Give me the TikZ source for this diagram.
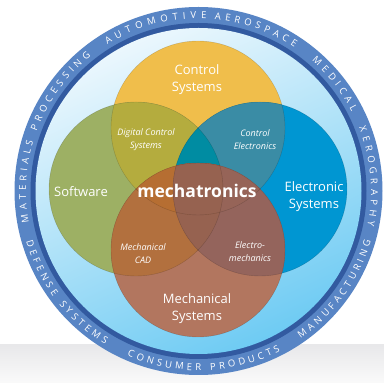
\documentclass[tikz,border=0pt]{standalone}
\usepackage{fontspec}
\setmainfont{Open Sans}
\usetikzlibrary{decorations.text}

\definecolor{bgblue}{RGB}{100,150,210}
\definecolor{glowlt}{RGB}{215,228,245}
\definecolor{floortop}{RGB}{232,232,234}
\definecolor{ringblue}{RGB}{88,133,197}
\definecolor{ringdark}{RGB}{50,90,160}
\definecolor{diskhi}{RGB}{235,247,253}
\definecolor{diskmid}{RGB}{170,224,249}
\definecolor{disklo}{RGB}{110,203,243}
\definecolor{cso}{RGB}{240,190,75}
\definecolor{csg}{RGB}{157,176,100}
\definecolor{csb}{RGB}{0,150,210}
\definecolor{csm}{RGB}{178,118,95}
\definecolor{csog}{RGB}{180,172,62}
\definecolor{csob}{RGB}{58,140,165}
\definecolor{csogb}{RGB}{0,140,162}
\definecolor{csgm}{RGB}{178,112,62}
\definecolor{csbm}{RGB}{148,100,92}
\definecolor{csgbm}{RGB}{150,98,80}
\definecolor{csogm}{RGB}{182,110,50}
\definecolor{csobm}{RGB}{150,100,88}
\definecolor{csall}{RGB}{150,98,80}

\pgfdeclareradialshading{glow}{\pgfpoint{0bp}{0bp}}{color(0bp)=(white); color(31bp)=(white); color(32bp)=(glowlt); color(36bp)=(glowlt!70!bgblue); color(48bp)=(bgblue); color(50bp)=(bgblue)}

\begin{document}
\begin{tikzpicture}[x=1pt,y=1pt]

\tikzset{venn/.style = {draw=black, draw opacity=0.18, line width=0.4pt}}
\tikzset{big/.style = {text=white, align=center, font=\fontsize{13}{17}\selectfont}}
\tikzset{small/.style = {text=white, align=center, font=\fontsize{9}{13}\selectfont\itshape}}
\tikzset{ringtext/.style = {decorate, decoration={text along path, text align={fit to path}, text color=white, text={|\fontsize{9.5}{10}\selectfont|#1}}}}

\useasboundingbox (0,0) rectangle (384,383);
\clip (0,0) rectangle (384,383);
%background
\fill[bgblue] (0,0) rectangle (384,383);
\shade[shading=glow] (198.5,192) circle (290);
\shade[top color=floortop, bottom color=white!98!black] (0,0) rectangle (384,38);
%ring
\coordinate (c) at (198.5,192);
\fill[ringblue] (c) circle (184);
\fill[ringdark] (c) circle (168);
\shade[top color=diskhi, middle color=diskmid, bottom color=disklo, shading angle=25] (c) circle (163);
%ring labels
\path[shift={(c)}, ringtext={MATERIALS PROCESSING}] (190.4:172.5) arc[start angle=190.4, end angle=128.6, radius=172.5];
\path[shift={(c)}, ringtext={AUTOMOTIVE}] (121.9:172.5) arc[start angle=121.9, end angle=87.4, radius=172.5];
\path[shift={(c)}, ringtext={AEROSPACE}] (84.6:172.5) arc[start angle=84.6, end angle=56.2, radius=172.5];
\path[shift={(c)}, ringtext={MEDICAL}] (48.9:172.5) arc[start angle=48.9, end angle=27.4, radius=172.5];
\path[shift={(c)}, ringtext={XEROGRAPHY}] (21.5:172.5) arc[start angle=21.5, end angle=-11.7, radius=172.5];
\path[shift={(c)}, ringtext={DEFENSE SYSTEMS}] (196.3:179.5) arc[start angle=196.3, end angle=238.7, radius=179.5];
\path[shift={(c)}, ringtext={CONSUMER PRODUCTS}] (246.6:179.5) arc[start angle=246.6, end angle=297.1, radius=179.5];
\path[shift={(c)}, ringtext={MANUFACTURING}] (304.7:179.5) arc[start angle=304.7, end angle=343.9, radius=179.5];

%circles
\coordinate (o) at (198,255);
\coordinate (g) at (136,194);
\coordinate (b) at (260,194);
\coordinate (m) at (198,133);
\fill[cso] (o) circle (87);
\fill[csg] (g) circle (87);
\fill[csb] (b) circle (87);
\begin{scope}
\clip (o) circle (87);
\fill[csog] (g) circle (87);
\fill[csob] (b) circle (87);
\clip (g) circle (87);
\fill[csogb] (b) circle (87);
\end{scope}
\fill[csm] (m) circle (87);
\begin{scope}
\clip (m) circle (87);
\fill[csgm] (g) circle (87);
\fill[csbm] (b) circle (87);
\begin{scope}
\clip (g) circle (87);
\fill[csgbm] (b) circle (87);
\end{scope}
\clip (o) circle (87);
\fill[csogm] (g) circle (87);
\fill[csobm] (b) circle (87);
\clip (g) circle (87);
\fill[csall] (b) circle (87);
\end{scope}
\foreach \k in {o,g,b,m} \draw[venn] (\k) circle (87);

%labels
\node[big] (ctl) at (197,303) {Control\\Systems};
\node[big] (sw) at (81,191) {Software};
\node[big] (elec) at (314,186) {Electronic\\Systems};
\node[big] (mech) at (197,74) {Mechanical\\Systems};
\node[text=white, font=\fontsize{17.5}{18}\selectfont\bfseries] (core) at (197,192) {mechatronics};
\node[small] (dcs) at (146,243) {Digital Control\\Systems};
\node[small] (ce) at (255,243) {Control\\Electronics};
\node[small] (cad) at (143,129) {Mechanical\\CAD};
\node[small] (em) at (250,131) {Electro-\\mechanics};

\end{tikzpicture}
\end{document}
